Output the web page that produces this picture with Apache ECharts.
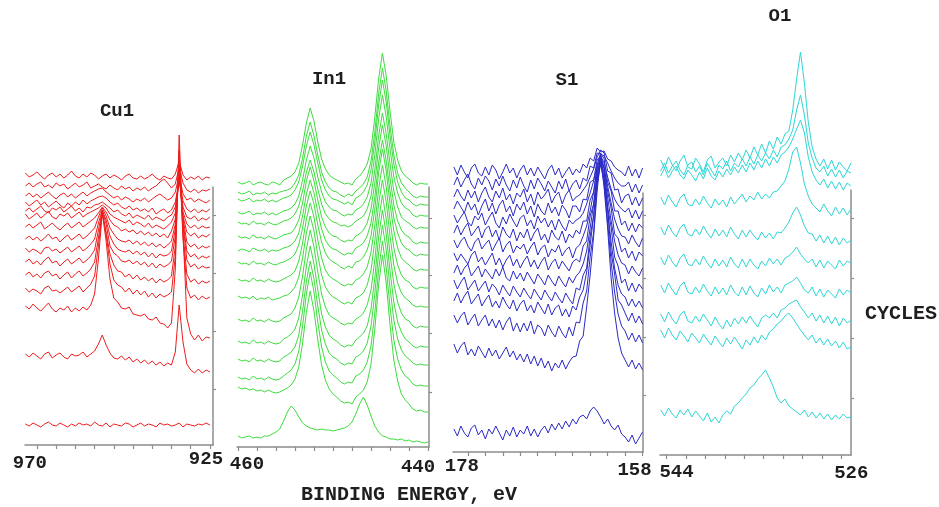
<!DOCTYPE html>
<html>
<head>
<meta charset="utf-8">
<script src="https://cdn.jsdelivr.net/npm/echarts@6/dist/echarts.min.js"></script>
<style>
  html, body { margin: 0; padding: 0; background: #ffffff; }
  #chart { width: 939px; height: 507px; }
</style>
</head>
<body>
<div id="chart"></div>
<script>
// ---------- Cu 2p region (binding energy, eV) ----------
const cuEnergy = [973,972,971,970,969,968,967,966,965,964,963,962,961,960,959,958,957,956,955,954,953,952,951,950,949,948,947,946,945,944,943,942,941,940,939,938,937,936,935,934,933,932,931,930,929,928,927,926,925];
const cuTicks = [970,965,960,955,950,945,940,935,930,925];
const cuLabels = [970,925];
const cuCycleTicks = [56,114,172,230];
const cu01 = [272,268,270,273,269,266,270,272,268,271,267,270,274,269,267,271,268,272,270,266,269,271,267,270,268,265,269,271,267,266,269,266,268,271,267,265,269,267,266,271,284,270,265,268,266,269,265,268,267];
const cu02 = [259,262,258,261,263,258,260,257,262,259,261,256,259,262,258,260,263,257,259,261,258,256,260,257,255,259,256,258,254,257,255,258,254,257,259,263,266,262,257,261,278,262,255,253,256,252,255,254,256];
const cu03 = [249,252,248,251,247,250,253,249,246,250,252,248,251,247,250,253,249,252,254,256,257,253,250,247,249,245,248,246,243,246,244,247,243,246,249,251,248,245,247,253,270,251,245,247,243,246,244,242,245];
const cu04 = [243,239,242,245,240,243,238,241,244,240,237,242,239,243,240,245,241,244,246,248,249,247,243,240,242,238,236,239,235,237,234,236,233,237,231,234,236,232,235,243,265,244,236,233,236,232,235,233,236];
const cu05 = [234,237,233,236,239,234,232,237,235,238,233,236,239,234,237,233,238,237,240,241,243,240,237,233,235,231,229,232,227,230,228,226,230,225,228,226,224,228,230,238,265,238,228,226,229,224,227,225,228];
const cu06 = [231,226,229,232,227,230,234,228,226,231,229,232,227,230,233,228,231,233,235,237,240,237,231,228,226,224,222,225,220,223,221,218,222,217,220,218,216,219,223,232,270,233,221,217,220,216,219,217,218];
const cu07 = [218,221,217,220,223,216,219,222,218,215,219,222,217,220,223,218,221,224,227,232,238,233,225,220,218,214,216,213,215,211,214,210,213,209,212,208,211,207,214,226,270,229,213,209,212,207,210,208,211];
const cu08 = [206,209,205,208,204,207,211,206,208,203,207,210,205,208,211,206,209,213,217,228,237,229,217,211,206,204,203,205,201,204,200,203,199,202,198,201,197,200,204,221,275,227,203,198,201,196,199,197,199];
const cu09 = [197,193,196,194,191,197,198,194,196,192,195,198,193,196,199,194,197,201,206,222,235,225,209,201,196,194,193,195,191,194,190,193,188,192,187,191,189,190,194,216,280,223,194,188,191,186,189,187,189];
const cu10 = [183,186,181,184,180,185,188,182,184,179,183,186,181,184,187,182,185,189,195,215,234,221,199,192,189,184,183,185,181,184,180,183,178,182,177,181,178,180,184,209,285,221,185,178,181,176,179,177,178];
const cu11 = [170,173,168,171,167,172,174,169,171,166,170,173,167,171,174,169,172,176,183,207,232,213,191,180,174,173,168,171,166,170,165,168,164,167,162,166,163,165,169,199,290,211,171,163,166,161,164,162,164];
const cu12 = [157,153,156,154,151,157,159,154,155,152,155,158,153,156,159,153,157,161,169,199,233,211,181,165,160,158,153,157,151,155,150,154,148,152,147,151,148,150,153,189,295,206,157,147,150,145,149,146,148];
const cu13 = [139,136,141,137,134,138,142,136,133,137,135,139,133,137,134,138,135,140,151,186,232,204,166,147,143,137,136,138,131,130,129,131,126,125,128,122,121,117,122,176,310,214,127,111,105,110,104,108,107];
const cu14 = [91,88,92,89,86,91,93,87,90,92,88,86,91,89,90,93,88,91,94,101,110,100,92,87,86,89,85,88,83,86,82,85,81,84,80,83,79,82,80,93,140,103,81,75,72,76,72,75,73];
const cu15 = [21,19,22,20,18,21,23,20,19,22,20,18,21,19,22,20,21,19,23,20,19,22,18,21,20,19,22,21,18,20,22,19,21,20,18,22,20,21,19,20,22,18,21,20,19,21,20,22,20];
const cuSpectra = [cu01,cu02,cu03,cu04,cu05,cu06,cu07,cu08,cu09,cu10,cu11,cu12,cu13,cu14,cu15];

// ---------- In 3d region ----------
const inEnergy = [460,459.6,459.2,458.8,458.4,458,457.6,457.2,456.8,456.4,456,455.6,455.2,454.8,454.4,454,453.6,453.2,452.8,452.4,452,451.6,451.2,450.8,450.4,450,449.6,449.2,448.8,448.4,448,447.6,447.2,446.8,446.4,446,445.6,445.2,444.8,444.4,444,443.6,443.2,442.8,442.4,442,441.6,441.2,440.8,440.4,440];
const inTicks = [460,458,456,454,452,450,448,446,444,442,440];
const inLabels = [460,440];
const inCycleTicks = [55,114,172,229];
const in01 = [265,263,264,266,262,264,265,263,262,265,264,262,267,269,271,275,284,302,324,339,326,305,288,278,272,269,267,265,263,264,262,268,271,276,283,298,330,368,394,371,336,305,287,276,271,268,264,262,264,263,263];
const in02 = [255,253,254,256,252,254,253,255,252,254,253,255,256,257,259,264,272,289,311,325,311,292,275,265,259,256,255,252,250,253,251,256,259,263,270,286,315,353,379,356,321,292,274,264,259,255,251,249,251,250,250];
const in03 = [248,246,247,249,245,247,246,248,245,247,245,247,249,250,252,257,265,281,301,315,302,284,267,257,251,248,247,245,243,245,242,249,251,255,262,277,305,342,367,345,311,283,265,255,249,247,243,241,243,242,242];
const in04 = [235,233,234,236,232,234,233,235,232,234,232,234,236,237,239,243,251,267,287,301,289,270,255,245,240,237,236,233,231,233,232,237,239,243,250,264,292,328,352,330,298,270,254,244,239,237,232,230,232,231,231];
const in05 = [225,223,224,222,226,223,224,222,225,223,222,224,226,227,229,233,241,256,275,287,275,258,243,233,228,225,224,221,222,220,222,226,228,231,238,251,277,311,334,313,283,256,240,230,226,224,220,218,220,219,219];
const in06 = [211,209,210,208,212,209,210,208,211,209,208,210,212,213,214,219,227,244,266,280,266,247,230,220,214,211,210,207,205,207,206,211,213,217,224,238,264,299,322,301,269,242,226,217,212,210,205,203,205,204,204];
const in07 = [196,198,197,195,199,197,196,198,195,197,196,197,199,200,202,206,214,231,253,267,254,235,218,207,201,198,197,194,192,194,193,199,201,204,211,224,250,284,307,286,256,229,214,204,199,197,193,191,193,192,192];
const in08 = [185,183,184,182,186,183,184,182,185,183,182,184,185,187,189,193,202,219,241,256,243,222,205,194,188,185,183,180,178,181,179,185,186,190,197,211,238,274,298,276,243,216,199,189,185,182,178,176,178,177,177];
const in09 = [168,166,167,165,169,166,167,165,168,166,165,166,168,170,172,176,186,204,228,244,230,207,189,177,171,168,166,163,161,163,162,167,169,173,180,195,222,258,282,260,227,199,182,172,167,165,160,158,160,159,159];
const in10 = [151,149,150,148,151,147,149,148,150,147,148,149,151,152,155,160,170,189,214,231,216,192,172,160,154,150,148,145,143,145,143,149,151,154,162,177,206,243,267,245,211,182,164,154,149,146,142,140,141,140,140];
const in11 = [128,126,127,125,129,126,127,125,128,126,125,126,129,131,133,139,150,171,198,217,200,175,153,140,132,129,127,124,122,124,123,128,130,134,142,157,187,226,252,228,193,163,145,134,128,126,121,119,121,120,120];
const in12 = [106,104,105,103,107,104,105,103,106,104,103,104,108,110,113,118,129,152,181,201,183,157,133,120,112,108,106,102,100,102,101,107,110,114,121,138,169,210,237,213,176,145,125,115,108,105,101,99,101,100,100];
const in13 = [88,86,87,85,89,86,87,85,88,86,85,86,90,92,95,100,112,136,166,186,168,141,117,103,94,90,88,84,82,84,83,90,92,96,104,121,153,194,222,197,159,127,108,97,91,88,84,82,83,82,82];
const in14 = [70,68,69,67,71,68,69,67,70,68,67,68,71,74,77,83,96,121,153,175,155,125,100,85,76,72,69,65,63,65,64,71,73,77,85,101,134,177,206,179,140,107,88,77,71,68,63,61,62,61,61];
const in15 = [60,58,59,57,58,56,57,55,57,55,54,55,57,59,62,68,80,104,135,156,136,107,82,67,58,53,50,46,44,45,43,50,53,57,65,83,118,162,192,164,122,87,66,53,47,43,38,36,37,35,35];
const in16 = [11,9,10,11,9,10,9,11,11,13,15,18,26,35,41,37,30,24,21,19,18,17,18,17,17,16,17,18,19,21,25,33,43,50,42,31,21,15,11,10,8,8,7,8,6,7,5,6,5,4,5];
const inSpectra = [in01,in02,in03,in04,in05,in06,in07,in08,in09,in10,in11,in12,in13,in14,in15,in16];

// ---------- S 2p region ----------
const sEnergy = [179.6,179.2,178.8,178.4,178,177.6,177.2,176.8,176.4,176,175.6,175.2,174.8,174.4,174,173.6,173.2,172.8,172.4,172,171.6,171.2,170.8,170.4,170,169.6,169.2,168.8,168.4,168,167.6,167.2,166.8,166.4,166,165.6,165.2,164.8,164.4,164,163.6,163.2,162.8,162.4,162,161.6,161.2,160.8,160.4,160,159.6,159.2,158.8,158.4,158];
const sTicks = [178,176,174,172,170,168,166,164,162,160,158];
const sLabels = [178,158];
const sCycleTicks = [57,115,174,237];
const s01 = [285,277,287,280,274,284,288,279,276,285,277,287,282,273,280,288,279,284,274,282,287,277,284,276,285,279,273,282,287,277,284,274,280,285,277,283,279,288,284,294,291,304,300,301,293,291,285,282,280,276,286,276,283,274,284];
const s02 = [267,275,265,272,278,268,263,274,267,276,271,262,273,266,276,267,261,272,264,275,266,260,272,263,274,268,261,271,265,259,271,263,273,261,268,272,263,274,271,286,284,299,298,296,289,281,274,269,266,266,270,260,268,259,267];
const s03 = [255,263,256,251,262,254,261,250,259,265,255,250,261,254,264,252,258,248,259,255,263,250,258,247,260,253,257,263,249,256,260,248,257,262,251,255,257,262,267,275,283,295,302,299,281,279,262,263,249,256,258,247,255,246,254];
const s04 = [243,251,245,239,250,242,248,237,246,253,241,249,238,247,252,240,246,236,248,242,250,238,246,235,248,241,237,249,239,245,236,247,242,234,246,246,240,253,252,270,272,292,296,289,275,263,253,247,243,240,244,234,242,233,241];
const s05 = [237,229,235,240,230,226,236,232,239,227,234,240,229,224,235,228,238,231,225,234,237,226,232,223,236,229,234,225,232,222,233,226,221,232,228,232,234,239,248,259,271,287,299,293,270,261,241,241,227,231,221,229,220,228,224];
const s06 = [219,227,217,224,229,216,221,226,214,223,226,215,222,212,225,218,214,223,211,220,214,223,211,219,224,212,218,209,222,215,212,221,209,218,214,222,218,231,231,252,260,286,292,284,266,249,233,223,216,215,208,217,210,205,214];
const s07 = [212,204,211,215,206,201,210,214,203,208,212,201,208,214,200,207,211,199,206,203,208,198,205,210,197,204,207,195,203,200,207,196,202,205,194,204,207,216,226,241,260,283,297,284,261,244,218,214,200,204,194,201,191,200,196];
const s08 = [199,191,198,193,188,197,201,190,195,187,193,199,187,194,185,192,197,186,193,184,191,196,185,192,183,190,195,182,189,193,183,191,186,181,190,193,190,206,211,236,248,280,290,279,255,231,211,197,189,187,178,186,180,176,184];
const s09 = [179,187,177,184,188,176,181,186,175,183,178,173,183,176,185,174,171,181,173,179,171,180,174,168,178,173,167,177,171,166,176,170,165,175,169,176,180,188,201,224,248,276,294,284,245,225,195,186,169,173,161,169,160,168,163];
const s10 = [172,163,170,175,162,167,172,161,166,171,160,168,164,157,167,161,156,166,160,155,164,158,153,163,157,152,162,156,151,160,154,149,159,153,148,164,162,177,184,216,236,274,288,275,242,210,184,167,158,155,146,153,145,151,144];
const s11 = [151,159,149,156,161,148,153,158,146,152,157,145,151,144,155,148,143,152,141,148,152,141,147,139,150,144,138,148,137,144,147,136,143,135,146,142,155,162,180,207,236,271,298,270,242,200,178,152,147,139,131,139,129,136,128];
const s12 = [137,129,136,140,127,133,138,126,132,137,126,133,124,132,122,130,135,121,129,120,129,121,131,118,127,124,116,127,120,115,126,119,114,125,116,130,129,149,161,195,220,268,288,269,230,190,160,138,126,121,112,119,110,117,109];
const s13 = [108,99,106,110,97,103,96,106,100,94,104,96,102,93,99,105,95,101,92,98,90,98,88,96,86,94,84,91,81,89,84,92,83,90,95,96,111,116,145,177,216,261,294,264,224,174,139,114,99,92,85,92,83,89,82];
const s14 = [23,16,26,19,15,24,27,17,22,13,23,18,26,19,12,22,16,25,15,22,18,26,16,23,15,22,26,19,28,22,29,23,31,25,33,28,35,37,33,41,45,41,35,28,33,26,22,27,18,15,10,17,8,14,20];
const sSpectra = [s01,s02,s03,s04,s05,s06,s07,s08,s09,s10,s11,s12,s13,s14];

// ---------- O 1s region ----------
const oEnergy = [544.6,544.2,543.8,543.4,543,542.6,542.2,541.8,541.4,541,540.6,540.2,539.8,539.4,539,538.6,538.2,537.8,537.4,537,536.6,536.2,535.8,535.4,535,534.6,534.2,533.8,533.4,533,532.6,532.2,531.8,531.4,531,530.6,530.2,529.8,529.4,529,528.6,528.2,527.8,527.4,527,526.6,526.2,525.8,525.4,525];
const oTicks = [544,542,540,538,536,534,532,530,528,526];
const oLabels = [544,526];
const oCycleTicks = [57,117,177,237];
const o01 = [295,287,298,290,284,294,300,288,286,297,291,283,295,299,287,293,297,289,300,293,302,295,305,297,308,300,311,302,314,306,318,311,321,324,345,376,403,372,333,308,296,289,296,286,295,285,293,288,284,292];
const o02 = [284,292,282,289,294,285,280,290,293,283,289,280,292,285,279,290,286,294,284,292,288,296,289,298,291,300,294,302,296,305,298,308,310,316,325,345,360,340,312,297,287,283,289,279,286,278,285,277,284,282];
const o03 = [279,287,277,284,289,280,276,285,280,274,283,276,287,279,275,284,278,286,280,288,282,290,283,292,285,294,287,296,289,298,292,300,303,308,316,326,335,322,298,283,275,270,276,267,274,266,273,265,272,269];
const o04 = [258,250,260,253,248,257,261,251,249,256,250,259,252,247,256,250,255,248,258,251,256,261,253,259,255,263,256,261,257,263,264,269,274,286,303,308,292,271,259,251,247,243,251,244,239,248,241,247,240,246];
const o05 = [228,220,230,223,218,227,231,221,219,226,220,229,222,217,226,219,225,218,228,221,216,225,218,225,219,215,223,217,222,216,223,222,227,233,242,248,240,229,222,221,214,220,212,219,211,218,210,217,212,215];
const o06 = [198,190,200,193,188,197,201,191,189,196,190,199,192,187,196,189,195,188,198,191,187,196,188,196,190,186,194,189,197,191,196,190,197,199,203,208,201,196,192,196,188,195,187,194,190,186,195,189,194,192];
const o07 = [170,162,172,165,160,169,173,163,161,168,162,171,164,159,168,161,167,160,170,163,159,168,160,169,162,158,167,161,170,163,168,162,170,172,174,178,172,165,162,168,159,166,158,165,161,157,166,160,165,162];
const o08 = [141,133,143,136,131,140,144,134,132,139,133,141,135,129,138,131,126,135,128,137,131,138,132,139,133,128,137,140,137,142,137,145,147,151,153,155,148,143,137,142,134,140,132,139,131,138,129,137,132,135];
const o09 = [125,117,127,120,115,124,119,113,122,117,112,121,115,110,119,113,108,117,111,118,112,106,115,110,118,112,120,115,123,126,131,134,139,142,137,131,125,120,115,120,112,117,110,116,109,114,107,113,106,108];
const o10 = [45,39,47,41,37,45,40,46,38,44,39,34,42,33,38,32,40,44,41,49,52,57,61,67,70,76,80,85,77,68,57,52,56,49,46,43,40,45,38,43,37,42,36,41,35,40,36,41,37,38];
const oSpectra = [o01,o02,o03,o04,o05,o06,o07,o08,o09,o10];

// ---------- drawing ----------
const FONT = "'Liberation Mono', 'DejaVu Sans Mono', monospace";
const TEXT_COLOR = '#1e1e1e';
const AXIS_COLOR = '#8c8c8c';

const panels = [
  { energy: cuEnergy, spectra: cuSpectra, color: '#ef1b1b',
    grid: { left: 25, top: 187, width: 188, height: 258 }, xMin: 924.2, xMax: 973.1,
    ticks: cuTicks, labels: cuLabels, cycleTicks: cuCycleTicks,
    labelPad: [[10, 14, 0, 0], [1, 8, 0, 0]] },
  { energy: inEnergy, spectra: inSpectra, color: '#3ddc3d',
    grid: { left: 237, top: 187, width: 192, height: 260 }, xMin: 439.9, xMax: 460.1,
    ticks: inTicks, labels: inLabels, cycleTicks: inCycleTicks,
    labelPad: [[8, 0, 0, 18], [14, 20, 0, 0]] },
  { energy: sEnergy, spectra: sSpectra, color: '#2a2ac6',
    grid: { left: 453, top: 193, width: 190, height: 259 }, xMin: 157.95, xMax: 179.7,
    ticks: sTicks, labels: sLabels, cycleTicks: sCycleTicks,
    labelPad: [[1, 12, 0, 0], [9, 16, 0, 0]] },
  { energy: oEnergy, spectra: oSpectra, color: '#2ed6d6',
    grid: { left: 660, top: 190, width: 191, height: 265 }, xMin: 525.0, xMax: 544.67,
    ticks: oTicks, labels: oLabels, cycleTicks: oCycleTicks,
    labelPad: [[8, 0, 0, 20], [10, 0, 0, 20]] }
];

const labelToken = { fontFamily: FONT, fontWeight: 'bold', fontSize: 19, lineHeight: 19, color: TEXT_COLOR };

const option = {
  animation: false,
  backgroundColor: '#ffffff',
  grid: panels.map(p => Object.assign({ containLabel: false }, p.grid)),
  xAxis: panels.map((p, k) => ({
    type: 'value', gridIndex: k, min: p.xMin, max: p.xMax, inverse: true,
    axisLine: { show: true, onZero: false, lineStyle: { color: AXIS_COLOR, width: 1.5 } },
    axisTick: { show: true, customValues: p.ticks, length: 4, lineStyle: { color: AXIS_COLOR, width: 1.2 } },
    axisLabel: {
      show: true, customValues: p.labels, margin: 4,
      formatter: v => '{l' + p.labels.indexOf(v) + '|' + v + '}',
      rich: {
        l0: Object.assign({ padding: p.labelPad[0] }, labelToken),
        l1: Object.assign({ padding: p.labelPad[1] }, labelToken)
      }
    },
    splitLine: { show: false }
  })),
  yAxis: panels.map((p, k) => ({
    type: 'value', gridIndex: k, position: 'right', min: 0, max: p.grid.height,
    axisLine: { show: true, onZero: false, lineStyle: { color: AXIS_COLOR, width: 1.5 } },
    axisTick: { show: true, customValues: p.cycleTicks, length: 3, lineStyle: { color: AXIS_COLOR, width: 1.2 } },
    axisLabel: { show: false },
    splitLine: { show: false }
  })),
  series: [],
  graphic: [
    ['Cu1', 117, 102], ['In1', 329, 70], ['S1', 567, 71], ['O1', 780, 7]
  ].map(([t, x, y]) => ({
    type: 'text', x: x, y: y, silent: true,
    style: { text: t, fill: TEXT_COLOR, font: 'bold 19px ' + FONT, align: 'center', verticalAlign: 'top', textAlign: 'center', textVerticalAlign: 'top' }
  })).concat([
    { type: 'text', x: 901, y: 304, silent: true,
      style: { text: 'CYCLES', fill: TEXT_COLOR, font: 'bold 20px ' + FONT, align: 'center', verticalAlign: 'top', textAlign: 'center', textVerticalAlign: 'top' } },
    { type: 'text', x: 409, y: 485, silent: true,
      style: { text: 'BINDING ENERGY, eV', fill: TEXT_COLOR, font: 'bold 20px ' + FONT, align: 'center', verticalAlign: 'top', textAlign: 'center', textVerticalAlign: 'top' } }
  ])
};

panels.forEach((p, k) => {
  p.spectra.forEach(values => {
    option.series.push({
      type: 'line', xAxisIndex: k, yAxisIndex: k,
      data: p.energy.map((e, i) => [e, values[i]]),
      showSymbol: false, symbol: 'none', clip: false, silent: true,
      lineStyle: { color: p.color, width: 1 },
      itemStyle: { color: p.color },
      emphasis: { disabled: true }
    });
  });
});

const chart = echarts.init(document.getElementById('chart'), null, { renderer: 'canvas' });
chart.setOption(option);
</script>
</body>
</html>
